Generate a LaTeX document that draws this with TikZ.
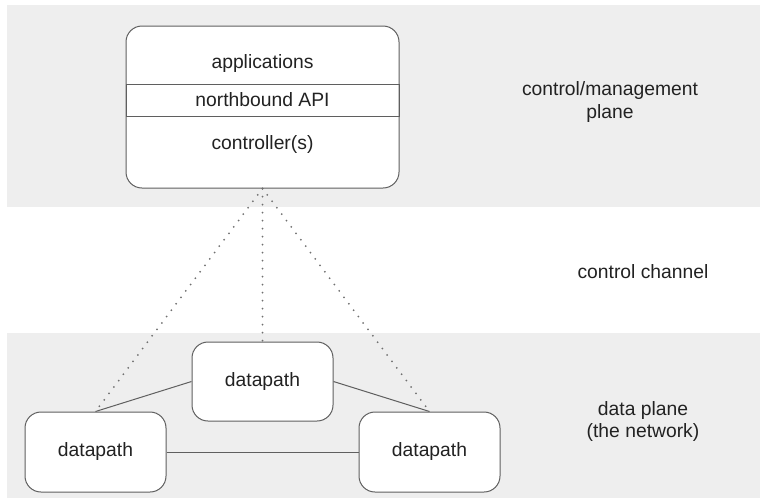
\documentclass[tikz,border=0pt]{standalone}
\usepackage{fontspec}
\setmainfont{Liberation Sans}
\definecolor{bandgray}{HTML}{EEEEEE}
\definecolor{edgegray}{HTML}{5F5F5F}
\definecolor{dotgray}{HTML}{707070}
\definecolor{inkgray}{HTML}{222222}
\tikzset{
  lbl/.style={font=\fontsize{19.3}{22.5}\selectfont, text=inkgray, align=center, inner sep=0pt},
  box/.style={draw=edgegray, line width=1pt, fill=white, rounded corners=16pt, inner sep=0pt},
  dpbox/.style={box, minimum width=141pt, minimum height=80pt, font=\fontsize{19.3}{22.5}\selectfont, text=inkgray},
  link/.style={draw=edgegray, line width=1pt},
  ctlink/.style={draw=dotgray, line width=2pt, line cap=round, dash pattern=on 0pt off 8pt},
}
\begin{document}
\begin{tikzpicture}[x=1pt, y=-1pt]
  \useasboundingbox (0,0) rectangle (760,499);
  % plane bands
  \fill[bandgray] (7,5) rectangle (760,207);
  \fill[bandgray] (7,333) rectangle (760,498);

  % controller stack
  \node[box, minimum width=273pt, minimum height=162pt] (ctrl) at (262.5,107) {};
  \node[lbl] (apps) at (262.5,64) {applications};
  \node[draw=edgegray, line width=1pt, minimum width=273pt, minimum height=32pt, inner sep=0pt,
        font=\fontsize{19.3}{22.5}\selectfont, text=inkgray] (api) at (262.5,100) {northbound API};
  \node[lbl] (ctl) at (262.5,144) {controller(s)};

  % datapaths
  \node[dpbox, minimum height=79pt] (dpt) at (262.5,381.5) {datapath};
  \node[dpbox] (dpl) at (95.5,452) {datapath};
  \node[dpbox] (dpr) at (429.5,452) {datapath};

  % control channel (dotted)
  \draw[ctlink] (ctrl.south) -- (dpl.north);
  \draw[ctlink] (ctrl.south) -- (dpt.north);
  \draw[ctlink] (ctrl.south) -- (dpr.north);

  % data links
  \draw[link] (dpt.west) -- (dpl.north);
  \draw[link] (dpt.east) -- (dpr.north);
  \draw[link] (dpl.east) -- (dpr.west);

  % plane labels
  \node[lbl] (cmp) at (610,102) {control/management\\plane};
  \node[lbl] (cch) at (643,272) {control channel};
  \node[lbl] (dpn) at (643,421.5) {data plane\\(the network)};
\end{tikzpicture}
\end{document}
